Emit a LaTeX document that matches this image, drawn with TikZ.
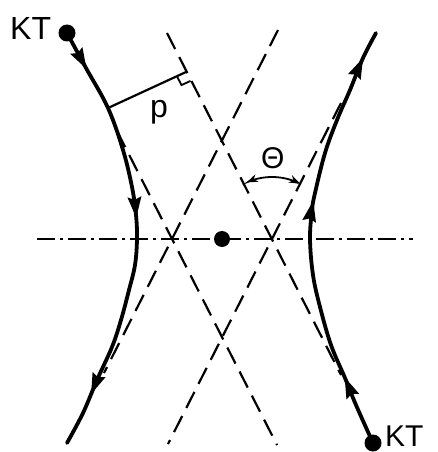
\documentclass[tikz,border=0pt]{standalone}
\usepackage{fontspec}
\setmainfont{Liberation Sans}
\usetikzlibrary{arrows.meta,decorations.markings,calc}
\begin{document}
\begin{tikzpicture}[x=1pt,y=-1pt,
  traj/.style={line width=3.8pt, line cap=round, line join=round},
  asym/.style={line width=2.2pt, dash pattern=on 18pt off 9pt},
  axisline/.style={line width=1.8pt, dash pattern=on 18pt off 5pt on 3pt off 5pt},
  plen/.style={line width=2.2pt},
  dotmark/.style={circle, fill=black, inner sep=0pt, minimum size=17pt},
  lbl/.style={inner sep=0pt, anchor=base west, font=\fontsize{32}{36}\selectfont},
  trajarrows/.style n args={3}{postaction={decorate}, decoration={markings,
    mark=at position #1 with {\fill (0pt,0pt) -- (-21pt,7pt) -- (-18pt,0pt) -- (-21pt,-7pt) -- cycle;},
    mark=at position #2 with {\fill (0pt,0pt) -- (-21pt,7pt) -- (-18pt,0pt) -- (-21pt,-7pt) -- cycle;},
    mark=at position #3 with {\fill (0pt,0pt) -- (-21pt,7pt) -- (-18pt,0pt) -- (-21pt,-7pt) -- cycle;}}}
]
\useasboundingbox (0,0) rectangle (437,452);
% key points
\coordinate (O) at (222,239);
\coordinate (CL) at (172,239);
\coordinate (CR) at (272,239);
\coordinate (AxL) at (37,239);
\coordinate (AxR) at (413,239);
% asymptote end points
\coordinate (L1a) at (167,33);  \coordinate (L1b) at (341,375);
\coordinate (L2a) at (278,30);  \coordinate (L2b) at (104,373);
\coordinate (L3a) at (117,131); \coordinate (L3b) at (277,445);
\coordinate (L4a) at (341,103); \coordinate (L4b) at (168,444);
% axis
\draw[axisline] (AxL) -- (AxR);
% asymptotes
\draw[asym] (L1a) -- (L1b);
\draw[asym] (L2a) -- (L2b);
\draw[asym] (L3a) -- (L3b);
\draw[asym] (L4a) -- (L4b);
% trajectories
\draw[traj, trajarrows={0.093}{0.455}{0.875}] plot[smooth, tension=0.6] coordinates {
  (67,33) (86,68) (108,108) (123,150) (132,187) (136,215) (137,239)
  (135,265) (129,290) (121,320) (112,347) (97,380) (83,413) (67,443)};
\draw[traj, trajarrows={0.165}{0.585}{0.935}] plot[smooth, tension=0.6] coordinates {
  (373,443) (356,405) (345,378) (331,345) (320,307) (313,275) (310,239)
  (312,210) (315,193) (325,153) (337,120) (350,90) (363,58) (376,33)};
% dots
\node[dotmark] (dotL) at (67,33) {};
\node[dotmark] (dotR) at (373,443) {};
\node[dotmark, minimum size=16pt] (dotO) at (O) {};
% labels
\node[lbl] (ktL) at (10,40) {KT};
\node[lbl, font=\fontsize{30}{34}\selectfont] (ktR) at (385,446) {KT};
\node[lbl] (plbl) at (150,117) {p};
\node[lbl, font=\fontsize{30}{34}\selectfont] (thlbl) at (261,168) {Θ};
% impact parameter
\coordinate (pA) at (108,108);
\coordinate (pB) at (186,72);
\draw[plen] (pA) -- (pB);
\coordinate (m1) at ($(pB)!10pt!(pA)$);
\coordinate (m3) at ($(pB)!10pt!(L1b)$);
\draw[line width=1.8pt] (m1) -- ($(m1)+(m3)-(pB)$) -- (m3);
% angle theta
\draw[line width=1.8pt, {Stealth[length=11pt,width=8pt]}-{Stealth[length=11pt,width=8pt]}]
  plot[domain=114:63, samples=25, smooth] ({272+62*cos(\x)}, {239-62*sin(\x)});
\end{tikzpicture}
\end{document}
